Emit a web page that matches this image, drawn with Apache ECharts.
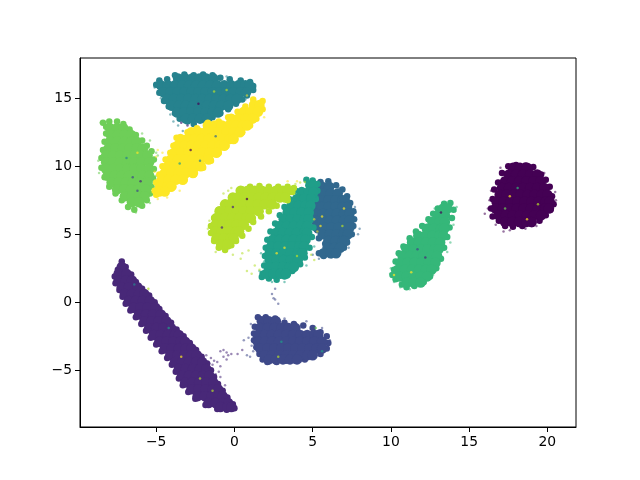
<!DOCTYPE html>
<html><head><meta charset="utf-8">
<script src="https://cdn.jsdelivr.net/npm/echarts@6/dist/echarts.min.js"></script>
<style>html,body{margin:0;background:#fff}#c{width:640px;height:480px}</style></head>
<body><div id="c"></div>
<script>
const xTicks=[-5,0,5,10,15,20];
const yTicks=[-5,0,5,10,15];
const colors=['#440154','#482878','#3e4989','#31688e','#26828e','#1f9e89','#35b779','#6ece58','#b5de2b','#fde725'];

// rows: [y, x, x, ...]
const rows0=[[9.9,17.8,18.25,18.7],[9.4,17.55,18,18.45,18.9,19.35],[8.9,17.3,17.75,18.2,18.65,19.1,19.55],[8.4,17.1,17.55,18,18.45,18.9,19.35,19.8],[7.9,16.95,17.4,17.85,18.3,18.75,19.2,19.65,20],[7.4,16.75,17.2,17.65,18.1,18.55,19,19.45,19.9,20.15],[6.9,16.7,17.15,17.6,18.05,18.5,18.95,19.4,19.85,20.1],[6.4,16.9,17.35,17.8,18.25,18.7,19.15,19.6],[5.9,17.3,17.75,18.2,18.65,19]];
const rows1=[[2.6,-7.2],[2.1,-7.4,-6.9],[1.6,-7.4,-6.95,-6.55],[1.1,-7.2,-6.75,-6.2],[0.6,-7,-6.55,-6.1,-5.75],[0.1,-6.75,-6.3,-5.85,-5.4],[-0.4,-6.45,-6,-5.55,-5.05],[-0.9,-6.1,-5.65,-5.2,-4.7],[-1.4,-5.75,-5.3,-4.85,-4.35],[-1.9,-5.45,-5,-4.55,-4.05],[-2.4,-5.15,-4.7,-4.25,-3.8,-3.55],[-2.9,-4.8,-4.35,-3.9,-3.45,-3.15],[-3.4,-4.45,-4,-3.55,-3.1,-2.75],[-3.9,-4.1,-3.65,-3.2,-2.75,-2.4],[-4.4,-3.8,-3.35,-2.9,-2.45,-2.05],[-4.9,-3.55,-3.1,-2.65,-2.2,-1.8],[-5.4,-3.35,-2.9,-2.45,-2,-1.6],[-5.9,-3.15,-2.7,-2.25,-1.8,-1.35],[-6.4,-2.75,-2.3,-1.85,-1.4,-1.05],[-6.9,-2.35,-1.9,-1.45,-1,-0.75],[-7.4,-1.65,-1.2,-0.75,-0.4],[-7.7,-0.9,-0.45,-0.2]];
const rows2=[[-1.4,1.75,2.2,2.65],[-1.9,1.65,2.1,2.55,3,3.45,3.9],[-2.4,1.5,1.95,2.4,2.85,3.3,3.75,4.2,4.65,5.1,5.35],[-2.9,1.5,1.95,2.4,2.85,3.3,3.75,4.2,4.65,5.1,5.6],[-3.4,1.65,2.1,2.55,3,3.45,3.9,4.35,4.8,5.25,5.6],[-3.9,1.95,2.4,2.85,3.3,3.75,4.2,4.65,5],[-4.2,2.2,2.65,3.1,3.55,4]];
const rows3=[[8.5,5.6,6.05],[8,5.25,5.7,6.15,6.6],[7.5,5.1,5.55,6,6.45,6.9,7.05],[7,5.1,5.55,6,6.45,6.9,7.2],[6.5,5.2,5.65,6.1,6.55,7,7.35],[6,5.2,5.65,6.1,6.55,7,7.35],[5.5,5.3,5.75,6.2,6.65,7.1,7.35],[5,5.65,6.1,6.55,7,7.25],[4.5,6,6.45,6.9,7.05],[4,5.95,6.4,6.75],[3.6,5.7,6.15,6.5]];
const rows4=[[16.45,-3.6,-3.15,-2.7,-2.25,-1.8,-1.35],[15.95,-4.7,-4.25,-3.8,-3.35,-2.9,-2.45,-2,-1.55,-1.1,-0.65,-0.2,0.25,0.7,0.95],[15.45,-4.55,-4.1,-3.65,-3.2,-2.75,-2.3,-1.85,-1.4,-0.95,-0.5,-0.05,0.4,0.75],[14.95,-4.3,-3.85,-3.4,-2.95,-2.5,-2.05,-1.6,-1.15,-0.7,-0.25,0.15],[14.45,-4,-3.55,-3.1,-2.65,-2.2,-1.75,-1.3,-0.85,-0.4],[13.95,-3.65,-3.2,-2.75,-2.3,-1.85,-1.4,-1.05],[13.5,-3.1,-2.65,-2.2,-1.75]];
const rows5=[[8.6,4.85,5.05],[8.1,4.3,4.75,5.05],[7.6,4,4.45,4.9],[7.1,3.65,4.1,4.55,4.85],[6.6,3.4,3.85,4.3,4.75],[6.1,3.15,3.6,4.05,4.5,4.75],[5.6,2.9,3.35,3.8,4.25,4.65],[5.1,2.65,3.1,3.55,4,4.45,4.65],[4.6,2.45,2.9,3.35,3.8,4.25,4.55],[4.1,2.35,2.8,3.25,3.7,4.15,4.45],[3.6,2.25,2.7,3.15,3.6,4.05,4.35],[3.1,2.25,2.7,3.15,3.6,4.05],[2.6,2.2,2.65,3.1,3.55,3.8],[2.1,2.05,2.5,2.95,3.3]];
const rows6=[[6.9,13.35,13.6],[6.4,13,13.45],[5.9,12.65,13.1,13.45],[5.4,12.3,12.75,13.2,13.4],[4.9,11.75,12.2,12.65,13.1,13.35],[4.4,11.35,11.8,12.25,12.7,13.15],[3.9,11,11.45,11.9,12.35,12.8,13.05],[3.4,10.75,11.2,11.65,12.1,12.55,12.95],[2.9,10.6,11.05,11.5,11.95,12.4,12.85],[2.4,10.45,10.9,11.35,11.8,12.25,12.6],[1.9,10.55,11,11.45,11.9,12.3],[1.45,11,11.45,11.9]];
const rows7=[[12.8,-7.95,-7.5,-7.1],[12.3,-7.9,-7.45,-7,-6.6],[11.8,-7.95,-7.5,-7.05,-6.6,-6.25],[11.3,-8.05,-7.6,-7.15,-6.7,-6.25,-5.85],[10.8,-8.2,-7.75,-7.3,-6.85,-6.4,-5.95,-5.55],[10.3,-8.2,-7.75,-7.3,-6.85,-6.4,-5.95,-5.45],[9.8,-8.2,-7.75,-7.3,-6.85,-6.4,-5.95,-5.45],[9.3,-8.1,-7.65,-7.2,-6.75,-6.3,-5.85,-5.45],[8.8,-7.85,-7.4,-6.95,-6.5,-6.05,-5.55],[8.3,-7.5,-7.05,-6.6,-6.15,-5.65],[7.8,-7,-6.55,-6.1,-5.75],[7.35,-6.55,-6.1]];
const rows8=[[8.2,0.4,0.85,1.3,1.75,2.2,2.65,3.1,3.4],[7.7,-0.1,0.2,0.65,1.1,1.55,2,2.45,2.9,3.25],[7.2,-0.6,-0.3,0.15,0.6,1.05,1.5,1.95,2.4],[6.7,-0.95,-0.75,-0.3,0.15,0.6,1.05,1.55],[6.2,-1.15,-1.05,-0.6,-0.15,0.3,0.75,1.05],[5.7,-1.2,-0.75,-0.3,0.15,0.6],[5.2,-1.25,-0.8,-0.35,0.1,0.3],[4.7,-1.15,-0.7,-0.25,-0.05],[4.25,-0.85,-0.45]];
const rows9=[[14.5,1.25,1.6],[14,0.6,1.05,1.5],[13.5,-0.2,0.25,0.7,1.15],[13,-1.7,-1.25,-0.8,-0.35,0.1,0.55,0.8],[12.5,-2.75,-2.3,-1.85,-1.4,-0.95,-0.5,-0.05,0.35],[12,-3.45,-3,-2.55,-2.1,-1.65,-1.2,-0.75,-0.3,-0.05],[11.5,-3.65,-3.2,-2.75,-2.3,-1.85,-1.4,-0.95,-0.65],[11,-3.85,-3.4,-2.95,-2.5,-2.05,-1.6,-1.15],[10.5,-4.05,-3.6,-3.15,-2.7,-2.25,-1.65],[10,-4.25,-3.8,-3.35,-2.9,-2.45,-2.15],[9.5,-4.45,-4,-3.55,-3.1,-2.65],[9,-4.65,-4.2,-3.75,-3.3],[8.5,-4.75,-4.3,-4.05],[8.15,-4.8,-4.45]];

const edge0=[[17.5,10],[18,10.1],[18.6,10.05],[19.1,9.95],[19.6,9.4],[19.9,9],[20.15,8.5],[20.3,7.8],[20.4,7.2],[20.2,6.8],[19.9,6.4],[19.5,6],[19,5.75],[18.4,5.6],[17.8,5.55],[17.3,5.6],[16.9,6],[16.5,6.3],[16.4,6.9],[16.5,7.6],[16.6,8.3],[16.85,8.8],[17.1,9.5]];
const edge1=[[-7.2,3],[-7.45,2.4],[-7.65,1.9],[-7.6,1.4],[-7.35,0.9],[-7.15,0.4],[-6.95,-0.1],[-6.65,-0.6],[-6.3,-1.1],[-5.95,-1.6],[-5.65,-2.1],[-5.35,-2.6],[-5,-3.1],[-4.65,-3.6],[-4.3,-4.1],[-4,-4.6],[-3.75,-5.1],[-3.55,-5.6],[-3.3,-6.1],[-2.95,-6.6],[-2.5,-7.1],[-1.85,-7.55],[-1.1,-7.85],[-0.5,-7.9],[0,-7.8],[-6.95,2.6],[-6.6,2.05],[-6.3,1.5],[-5.9,1],[-5.45,0.5],[-5.1,0],[-4.8,-0.5],[-4.4,-1],[-4.05,-1.5],[-3.7,-2],[-3.25,-2.5],[-2.85,-3],[-2.45,-3.5],[-2.1,-4],[-1.75,-4.5],[-1.5,-5],[-1.3,-5.5],[-1.05,-6],[-0.75,-6.5],[-0.45,-7],[-0.1,-7.5]];
const edge2=[[1.5,-1.1],[2,-1.1],[2.6,-1.2],[3.2,-1.5],[3.8,-1.6],[4.4,-1.7],[5,-1.9],[5.5,-2.2],[5.9,-2.5],[6,-3],[5.9,-3.4],[5.5,-3.8],[5,-4],[4.5,-4.2],[3.9,-4.3],[3.3,-4.3],[2.7,-4.4],[2.1,-4.4],[1.8,-4.2],[1.6,-3.8],[1.4,-3.3],[1.25,-2.8],[1.25,-2.3],[1.3,-1.8]];
const edge3=[[5.5,8.85],[6,8.9],[6.5,8.6],[6.9,8.3],[7.2,7.8],[7.4,7.3],[7.6,6.7],[7.65,6.1],[7.6,5.6],[7.5,5],[7.2,4.4],[7,4],[6.6,3.7],[6.2,3.5],[5.7,3.4],[5.4,3.6],[5.8,4.3],[5.4,4.7],[5.3,5.3]];
const edge4=[[-5,16],[-4.8,16.3],[-4.3,16.4],[-3.8,16.7],[-3.2,16.75],[-2.6,16.7],[-2,16.75],[-1.4,16.7],[-0.9,16.5],[-0.3,16.4],[0.4,16.3],[1,16.2],[1.2,15.9],[1.2,15.6],[0.8,15.2],[0.5,14.9],[0.1,14.6],[-0.4,14.2],[-0.9,13.9],[-1.4,13.6],[-2,13.4],[-2.6,13.1],[-3,13.3],[-3.5,13.5],[-3.8,13.9],[-4.2,14.4],[-4.5,14.8],[-4.8,15.4]];
const edge5=[[4.6,9],[5,8.95],[5.3,8.7],[5.3,8.2],[5.2,7.6],[3.9,8.2],[3.5,7.6],[3.2,7],[2.9,6.4],[2.6,5.8],[2.3,5.2],[2.1,4.6],[2,4],[1.95,3.4],[1.9,2.7],[1.8,2.1],[1.75,1.85],[2.2,1.75],[2.7,1.65],[3.2,1.9],[3.7,2.3],[4.2,2.8],[4.5,3.3],[4.8,4],[4.95,4.8],[5.05,5.5]];
const edge6=[[13.8,7.3],[13.4,7.25],[13,6.9],[12.7,6.5],[12.4,6.1],[12,5.6],[11.6,5.2],[11.2,4.7],[10.8,4.1],[10.5,3.6],[10.3,3],[10.2,2.4],[10.1,2],[10.3,1.7],[10.7,1.3],[11,1.1],[11.5,1.2],[12.1,1.5],[12.5,1.9],[12.9,2.5],[13.2,3.2],[13.4,4],[13.6,4.8],[13.75,5.5],[13.9,6.2],[14,6.8]];
const edge7=[[-8.4,13.2],[-8,13.3],[-7.5,13.3],[-7.1,13.1],[-6.7,12.7],[-6.3,12.3],[-5.9,11.9],[-5.6,11.5],[-5.3,11.1],[-5.15,10.5],[-5.15,9.8],[-5.2,9.1],[-5.3,8.5],[-5.4,8],[-5.6,7.5],[-5.9,7.1],[-6.4,6.8],[-6.8,7],[-7.2,7.5],[-7.6,8],[-8,8.5],[-8.3,9.2],[-8.5,9.9],[-8.5,10.6],[-8.4,11.2],[-8.3,11.8],[-8.2,12.4],[-8.2,12.9]];
const edge8=[[0.5,8.3],[1,8.5],[1.6,8.55],[2.2,8.5],[2.8,8.5],[3.4,8.5],[3.8,8.4],[3.7,8.1],[3.4,7.5],[2.7,7.1],[2.2,6.7],[1.7,6.3],[1.2,5.9],[0.9,5.4],[0.5,4.9],[0.1,4.5],[-0.2,4.2],[-0.6,3.85],[-1,4],[-1.3,4.5],[-1.5,5.1],[-1.5,5.6],[-1.3,6.2],[-1,6.8],[-0.6,7.3],[-0.1,7.8]];
const edge9=[[1.8,14.8],[1.2,14.9],[0.7,14.4],[0.2,14],[-0.4,13.6],[-1,13.3],[-1.7,13.2],[-2.4,12.8],[-3,12.5],[-3.7,12.1],[-3.9,11.5],[-4.1,11],[-4.4,10.5],[-4.6,10],[-4.8,9.4],[-5,8.8],[-5.1,8.2],[-5,7.9],[-4.5,8.1],[-3.9,8.5],[-3.2,9],[-2.6,9.4],[-2,9.9],[-1.5,10.4],[-1,11],[-0.5,11.5],[0,12],[0.5,12.5],[1,13],[1.4,13.5],[1.8,14.2]];

const dust0=[[16,6.5],[16.2,6.9],[16.3,7.5],[16.4,8.2],[16.7,5.7],[17.2,5.2],[17.6,5.3],[18.6,5.4],[19.3,5.6],[20.5,8.1],[20.55,7.5],[19.8,9.5],[17,9.9]];
const dust1=[[-2.2,-3.9],[-2,-4.2],[-1.8,-3.9],[-1.5,-4.1],[-1.4,-4.6],[-1.1,-4.4],[-0.9,-4.7],[-1,-5.1],[-0.9,-5.5],[-0.7,-3.5],[-0.5,-3.7],[-0.4,-3.9],[-0.7,-4],[-0.2,-3.8],[0.2,-3.8],[-0.5,-4.2],[-1.2,-5.3],[-0.6,-6.1],[-0.3,-7.2],[-1.3,-4.3],[-1.6,-4.5],[0.5,-3.5],[-0.9,-3.6]];
const dust2=[[1.2,-3.6],[1,-4],[0.9,-2.6],[0.6,-2.8],[1.1,-3.2],[0.8,-3.9],[1.05,-1.6],[3.2,-1.2],[4.6,-1.4],[5.6,-1.9],[6.1,-2.8],[2.5,0.3],[2.4,0.6],[2.6,0.2],[2.8,-0.1],[2.6,1]];
const dust3=[[7.9,5],[8,5.4],[5.9,3.9],[7.75,6.6],[7.7,7],[6.7,8.4],[7.3,4],[5.4,3.2],[5,3.5],[6.2,3.3]];
const dust4=[[-3.6,13],[-3.3,12.6],[-2.9,12.6],[-5.1,15.8],[-4.7,15],[-4.1,13.8],[-3.9,13.3],[0.7,14.9],[0.2,14.9],[1.3,15.8],[-0.5,16.6]];
const dust5=[[5.4,8.3],[5.3,7.8],[1.6,2.3],[1.9,3],[1.7,3.6],[4.6,2.7],[5.1,4.1],[3.2,1.5],[2.4,1.5]];
const dust6=[[14.2,7],[14.1,6.7],[14,5.7],[13.8,4.4],[9.95,2.1],[10,2.5],[10.2,1.5],[10.6,1.1],[11.2,0.95],[12.7,2],[13.6,3.7],[12.8,6.9]];
const dust7=[[-5,8.4],[-4.9,10.8],[-5,9.3],[-5,11],[-5.4,11.9],[-5.9,12.4],[-8.7,10.4],[-8.65,9.5],[-6.3,6.6],[-5.4,7.3],[-8.55,13.2]];
const dust8=[[4.2,8.8],[4.5,8.85],[3.9,8.7],[-0.7,8],[-0.4,8.2],[-0.1,3.5],[0.4,3.2],[0.8,2.3],[1.3,2.7],[1.6,2.4],[1.1,2.1],[0.5,3.6],[-1.7,5.4],[-1.6,6],[-1.2,3.7],[-0.2,8.4],[4.9,3.5],[5.1,3.1],[0.9,3.8]];
const dust9=[[-5,10.7],[-4.9,11.2],[-4.6,11],[-4.9,7.6],[-5.1,9.6],[-4.3,7.7],[-3.5,8.2],[1.9,13.6],[0.8,15.2],[4,8.9],[3.4,8.9],[5.1,6.1],[5.3,5.2]];

const specks=[[18.1,8.4,6],[19.4,7.2,8],[17.3,6.9,7],[17.6,7.8,9],[18.7,6.1,9],[12.2,3.3,1],[11.3,2.2,9],[11.7,3.9,2],[13.2,6.6,0],[10.2,2,9],[-6.5,9.2,2],[-6.2,8.2,2],[-6.9,10.6,4],[-6.2,11,9],[-6,8.9,1],[-2.8,11.2,0],[-2.2,10.4,4],[-1.2,12.2,3],[-3.5,10.2,5],[-3,13,1],[-3.4,13.2,1],[-0.5,15.6,8],[-2.3,14.6,0],[-1.3,15.5,8],[-0.1,7,1],[0.8,7.6,0],[-0.8,5.5,1],[3.2,4,9],[4,3.4,8],[2.7,3.6,9],[5.6,6.3,9],[5.5,5.6,9],[6.9,5.6,8],[7,6.9,9],[-5.5,1,8],[-6.4,1.3,4],[-3.4,-4,9],[-2.2,-5.6,8],[-4.2,-1.9,5],[-1.4,-6.5,8],[3,-2.9,5],[5.2,-1.9,7],[2.8,-4,8],[5.6,-3.6,5]];

const rows=[rows0,rows1,rows2,rows3,rows4,rows5,rows6,rows7,rows8,rows9];
const edges=[edge0,edge1,edge2,edge3,edge4,edge5,edge6,edge7,edge8,edge9];
const dusts=[dust0,dust1,dust2,dust3,dust4,dust5,dust6,dust7,dust8,dust9];

const series=[];
colors.forEach((c,i)=>{
  const core=rows[i].flatMap(r=>r.slice(1).map(x=>[x,r[0]]));
  series.push({type:'scatter',data:dusts[i],symbolSize:2.5,silent:true,itemStyle:{color:c,opacity:0.55}});
  series.push({type:'scatter',data:edges[i],symbolSize:6.5,silent:true,itemStyle:{color:c,opacity:1}});
  series.push({type:'scatter',data:core,symbolSize:10.5,silent:true,itemStyle:{color:c,opacity:1}});
});
series.push({type:'scatter',data:specks.map(p=>({value:[p[0],p[1]],itemStyle:{color:colors[p[2]],opacity:0.7}})),symbolSize:2.5,silent:true});

const lab=v=>String(v).replace('-','\u2212');
const axisCommon=(ticks)=>({
  axisLine:{show:true,onZero:false,lineStyle:{color:'#000',width:1}},
  axisTick:{show:true,length:5,lineStyle:{color:'#000',width:1},customValues:ticks},
  axisLabel:{show:true,color:'#000',fontFamily:'DejaVu Sans',fontSize:13.9,margin:8,customValues:ticks,formatter:lab},
  splitLine:{show:false}
});
const chart=echarts.init(document.getElementById('c'),null,{renderer:'canvas'});
chart.setOption({
  animation:false,
  backgroundColor:'#fff',
  grid:{left:80,right:64,top:58,bottom:53,show:true,borderColor:'#000',borderWidth:1,backgroundColor:'transparent'},
  xAxis:Object.assign({type:'value',min:-9.87,max:21.83},axisCommon(xTicks)),
  yAxis:Object.assign({type:'value',min:-9.17,max:17.96},axisCommon(yTicks)),
  series
});
</script></body></html>
